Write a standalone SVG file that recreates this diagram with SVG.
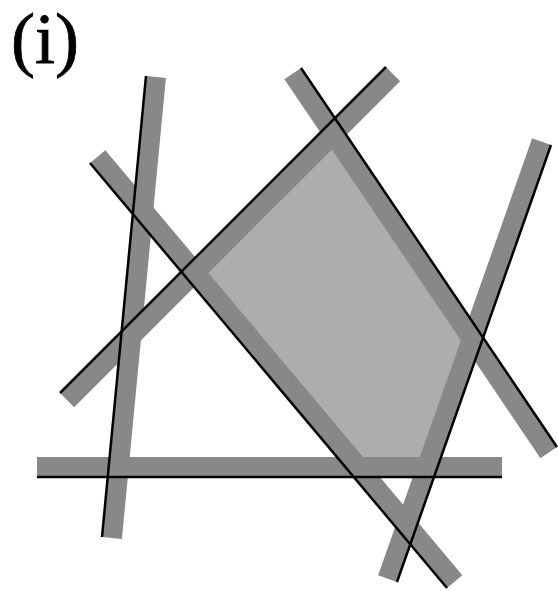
<svg xmlns="http://www.w3.org/2000/svg" width="558" height="591" viewBox="0 0 558 591">
<style>
.band{stroke:#888888;stroke-width:20;stroke-linecap:butt;fill:none}
.edge{stroke:#000000;stroke-width:2.5;stroke-linecap:butt;fill:none}
.region{fill:#adadad;stroke:none}
.lbl{font-family:"Liberation Serif","Times New Roman",serif;font-size:72px;fill:#000;stroke:#000;stroke-width:0.8}
</style>
<rect width="558" height="591" fill="#ffffff"/>
<text class="lbl" x="11" y="63">(i)</text>
<g id="region">
<polygon class="region" points="334.9,118.1 483.1,337.6 434,477 353.8,477 181.3,271.7"/>
</g>
<g id="bands">
<line id="band1" class="band" x1="155.96" y1="76.95" x2="111.96" y2="537.95"/>
<line id="band2" class="band" x1="97.66" y1="156.57" x2="454.66" y2="581.57"/>
<line id="band3" class="band" x1="67.07" y1="400.07" x2="393.07" y2="74.07"/>
<line id="band4" class="band" x1="292.71" y1="73.6" x2="548.71" y2="452.6"/>
<line id="band5" class="band" x1="541.57" y1="141.68" x2="387.57" y2="578.68"/>
<line id="band6" class="band" x1="37" y1="467" x2="502" y2="467"/>
</g>
<g id="lines">
<line class="edge" x1="146" y1="76" x2="102" y2="537"/>
<line class="edge" x1="90" y1="163" x2="447" y2="588"/>
<line class="edge" x1="60" y1="393" x2="386" y2="67"/>
<line class="edge" x1="301" y1="68" x2="557" y2="447"/>
<line class="edge" x1="551" y1="145" x2="397" y2="582"/>
<line class="edge" x1="37" y1="477" x2="502" y2="477"/>
</g>
</svg>
